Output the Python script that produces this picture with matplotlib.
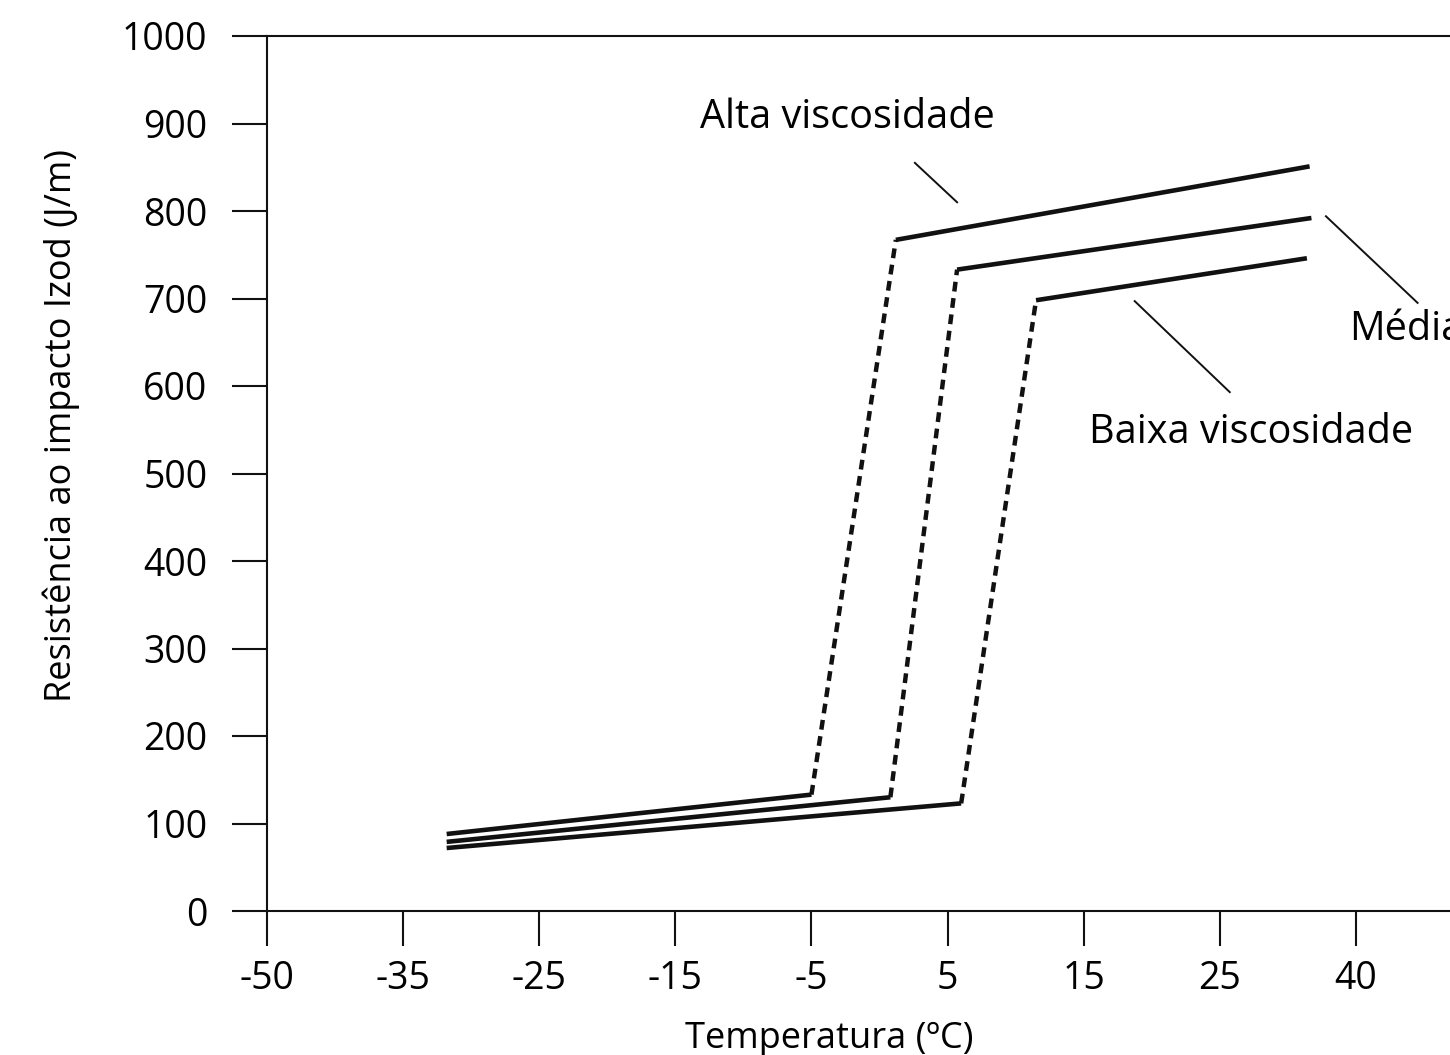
import numpy as np
import matplotlib
matplotlib.use("Agg")
import matplotlib.pyplot as plt

plt.rcParams['font.family'] = ['Open Sans', 'DejaVu Sans']

# eixo x: marcas igualmente espaçadas com rótulos de temperatura
xtick_vals = [-50, -35, -25, -15, -5, 5, 15, 25, 40]
ytick_vals = [0, 100, 200, 300, 400, 500, 600, 700, 800, 900, 1000]

# curvas (temperatura, resistência) - lido do gráfico
# alta viscosidade
alta_baixo_t = [-31.8, -5.0]
alta_baixo_r = [88, 133]
alta_trans_t = [-5.0, 1.2]
alta_trans_r = [133, 767]
alta_cima_t = [1.2, 34.9]
alta_cima_r = [767, 851]
# média
media_baixo_t = [-31.8, 0.8]
media_baixo_r = [79, 130]
media_trans_t = [0.8, 5.7]
media_trans_r = [130, 733]
media_cima_t = [5.7, 35.1]
media_cima_r = [733, 792]
# baixa viscosidade
baixa_baixo_t = [-31.8, 6.0]
baixa_baixo_r = [72, 123]
baixa_trans_t = [6.0, 11.5]
baixa_trans_r = [123, 698]
baixa_cima_t = [11.5, 34.6]
baixa_cima_r = [698, 746]

idx = np.arange(len(xtick_vals), dtype=float)
tv = np.array(xtick_vals, dtype=float)

def fwd(t):
    t = np.asarray(t, dtype=float)
    p = np.interp(t, tv, idx)
    p = np.where(t > tv[-1], idx[-1] + (t - tv[-1]) / 15.0, p)
    p = np.where(t < tv[0], (t - tv[0]) / 15.0, p)
    return p

def inv(p):
    p = np.asarray(p, dtype=float)
    t = np.interp(p, idx, tv)
    t = np.where(p > idx[-1], tv[-1] + (p - idx[-1]) * 15.0, t)
    t = np.where(p < idx[0], tv[0] + p * 15.0, t)
    return t

fig = plt.figure(figsize=(14.5, 10.55), dpi=100)
ax = fig.add_axes([267/1450, 144/1055, 1225/1450, 875/1055])
ax.set_xscale('function', functions=(fwd, inv))
ax.set_xlim(-50, 55)
ax.set_ylim(0, 1000)

sol = dict(color='#111111', lw=3.3, solid_capstyle='butt')
tra = dict(color='#111111', lw=3.2, dashes=(2.2, 1.5), dash_capstyle='butt')

for bt, br, tt, tr, ct, cr in [
        (alta_baixo_t, alta_baixo_r, alta_trans_t, alta_trans_r, alta_cima_t, alta_cima_r),
        (media_baixo_t, media_baixo_r, media_trans_t, media_trans_r, media_cima_t, media_cima_r),
        (baixa_baixo_t, baixa_baixo_r, baixa_trans_t, baixa_trans_r, baixa_cima_t, baixa_cima_r)]:
    ax.plot(bt, br, **sol)
    ax.plot(tt, tr, **tra)
    ax.plot(ct, cr, **sol)

# rótulos com linhas de chamada
fs = 28.5
ax.text(-2.35, 906, 'Alta viscosidade', fontsize=fs, ha='center', va='center')
ax.plot([2.6, 5.7], [855, 810], color='#111111', lw=1.4)
ax.text(39.3, 664, 'Média', fontsize=fs, ha='left', va='center')
ax.plot([36.7, 46.8], [794, 695], color='#111111', lw=1.4)
ax.text(28.5, 547, 'Baixa viscosidade', fontsize=fs, ha='center', va='center')
ax.plot([18.75, 26.1], [697, 593], color='#111111', lw=1.4)

ax.set_xticks(xtick_vals)
ax.set_xticklabels([str(v) for v in xtick_vals])
ax.set_yticks(ytick_vals)
ax.minorticks_off()
ax.tick_params(axis='both', direction='out', length=25, width=1.5,
               labelsize=27, color='#111111')
ax.tick_params(axis='y', pad=18)
ax.tick_params(axis='x', pad=10)

for s in ['left', 'bottom', 'top']:
    ax.spines[s].set_linewidth(1.5)
    ax.spines[s].set_color('#111111')
ax.spines['right'].set_visible(False)

ax.set_xlabel('Temperatura (ºC)', fontsize=26)
ax.set_ylabel('Resistência ao impacto Izod (J/m)', fontsize=26)
ax.yaxis.set_label_coords((80-267)/1225, 0.555)
ax.xaxis.set_label_coords((829-267)/1225, -110/875)

fig.savefig('out.png', dpi=100)
